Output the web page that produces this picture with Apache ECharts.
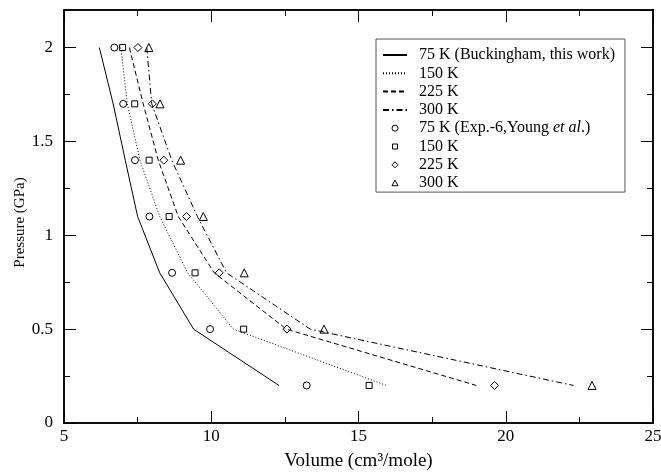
<!DOCTYPE html>
<html>
<head>
<meta charset="utf-8">
<script src="https://cdn.jsdelivr.net/npm/echarts@6/dist/echarts.min.js"></script>
<style>html,body{margin:0;padding:0;background:#fff}#c{width:661px;height:472px}</style>
</head>
<body>
<div id="c"></div>
<script>
// Pressure levels (GPa)
var pressure = [2.0, 1.7, 1.4, 1.1, 0.8, 0.5, 0.2];
// Buckingham (this work) volumes, cm^3/mole
var lineV75  = [6.2, 6.67, 7.08, 7.5, 8.25, 9.4, 12.3];
var lineV150 = [6.93, 7.15, 7.58, 8.25, 9.2, 10.75, 15.95];
var lineV225 = [7.22, 7.69, 8.2, 8.88, 10.1, 12.55, 19.0];
var lineV300 = [7.81, 7.98, 8.66, 9.53, 10.52, 13.36, 22.3];
// Exp.-6, Young et al.
var expV75  = [6.71, 7.01, 7.41, 7.90, 8.67, 9.96, 13.24];
var expV150 = [6.99, 7.40, 7.89, 8.57, 9.45, 11.10, 15.36];
var expV225 = [7.51, 8.0, 8.39, 9.16, 10.27, 12.57, 19.62];
var expV300 = [7.88, 8.26, 8.96, 9.73, 11.12, 13.83, 22.93];

var names = ['75 K (Buckingham, this work)', '150 K', '225 K', '300 K',
             '75 K (Exp.-6,Young et al.)', '150 K ', '225 K ', '300 K '];

function pairs(v) { return v.map(function (x, i) { return [x, pressure[i]]; }); }

var FONT = 'Liberation Serif';
var xMin = 5, xMax = 25, yMin = 0, yMax = 2.2;

function xAx(pos, interval, len, labels) {
  return {
    type: 'value', position: pos, min: xMin, max: xMax, interval: interval,
    axisLine: { show: true, onZero: false, lineStyle: { color: '#000', width: 1.5 } },
    axisTick: { show: true, inside: true, length: len, lineStyle: { color: '#000', width: 1 } },
    axisLabel: { show: labels, margin: 5, color: '#000', fontFamily: FONT, fontSize: 17 },
    splitLine: { show: false }
  };
}
function yAx(pos, interval, len, labels) {
  return {
    type: 'value', position: pos, min: yMin, max: yMax, interval: interval,
    axisLine: { show: true, onZero: false, lineStyle: { color: '#000', width: 1.5 } },
    axisTick: { show: true, inside: true, length: len, lineStyle: { color: '#000', width: 1 } },
    axisLabel: { show: labels, showMaxLabel: false, margin: 11, color: '#000', fontFamily: FONT, fontSize: 17 },
    splitLine: { show: false }
  };
}

var xAxes = [xAx('bottom', 5, 12, true), xAx('bottom', 2.5, 6, false), xAx('top', 5, 12, false), xAx('top', 2.5, 6, false)];
xAxes[0].name = 'Volume (cm\u00B3/mole)';
xAxes[0].nameLocation = 'middle';
xAxes[0].nameGap = 29;
xAxes[0].nameMoveOverlap = false;
xAxes[0].nameTextStyle = { color: '#000', fontFamily: FONT, fontSize: 19 };

var yAxes = [yAx('left', 0.5, 12, true), yAx('left', 0.25, 6, false), yAx('right', 0.5, 12, false), yAx('right', 0.25, 6, false)];
yAxes[0].name = 'Pressure (GPa)';
yAxes[0].nameLocation = 'middle';
yAxes[0].nameGap = 36;
yAxes[0].nameMoveOverlap = false;
yAxes[0].nameTextStyle = { color: '#000', fontFamily: FONT, fontSize: 15, padding: [0, 12, 0, 0] };

function lineSeries(name, v, type) {
  return { name: name, type: 'line', data: pairs(v), symbol: 'none', silent: true,
    lineStyle: { color: '#000', width: 1, type: type }, itemStyle: { color: '#000' } };
}
function scat(name, v, sym, size) {
  return { name: name, type: 'scatter', data: pairs(v), symbol: sym, symbolSize: size, symbolKeepAspect: true, silent: true,
    itemStyle: { color: '#fff', borderColor: '#000', borderWidth: 1, opacity: 1 } };
}

// legend marker shapes drawn centred in the 24x6 legend icon box
var legendIcons = [
  'path://M0,0M24,6M15,3A3,3,0,1,1,9,3A3,3,0,1,1,15,3Z',
  'path://M0,0M24,6M9.5,0.5L14.5,0.5L14.5,5.5L9.5,5.5Z',
  'path://M0,0M24,6M12,0L15,3L12,6L9,3Z',
  'path://M0,0M24,6M12,0L15,5.6L9,5.6Z'
];
var legendData = names.map(function (n, i) {
  if (i < 4) return { name: n, itemStyle: { opacity: 0 } };
  return { name: n, icon: legendIcons[i - 4] };
});

var option = {
  animation: false,
  backgroundColor: '#fff',
  grid: { left: 64, right: 8, top: 10, bottom: 49, containLabel: false, outerBoundsMode: 'none' },
  xAxis: xAxes,
  yAxis: yAxes,
  legend: {
    left: 376, top: 39, orient: 'vertical',
    data: legendData,
    itemWidth: 24, itemHeight: 6, itemGap: 2.3,
    padding: [8, 10, 1, 6],
    borderColor: '#555', borderWidth: 1, backgroundColor: '#fff',
    selectedMode: false,
    itemStyle: { borderWidth: 1, color: '#fff', borderColor: '#000' },
    textStyle: { color: '#000', fontFamily: FONT, fontSize: 16, lineHeight: 16, padding: [0, 0, 0, 7],
      rich: { n: { fontFamily: FONT, fontSize: 16, color: '#000' }, i: { fontFamily: FONT, fontSize: 16, fontStyle: 'italic', color: '#000' } } },
    formatter: function (n) {
      if (n.indexOf('et al.') >= 0) return '{n|75 K (Exp.-6,Young }{i|et al}{n|.)}';
      return n;
    }
  },
  series: [
    lineSeries(names[0], lineV75, 'solid'),
    lineSeries(names[1], lineV150, [1, 2]),
    lineSeries(names[2], lineV225, [5, 3]),
    lineSeries(names[3], lineV300, [6, 3, 1.5, 3]),
    scat(names[4], expV75, 'circle', 7),
    scat(names[5], expV150, 'rect', 6),
    scat(names[6], expV225, 'diamond', 8),
    scat(names[7], expV300, 'triangle', 8)
  ]
};
echarts.init(document.getElementById('c')).setOption(option);
</script>
</body>
</html>
